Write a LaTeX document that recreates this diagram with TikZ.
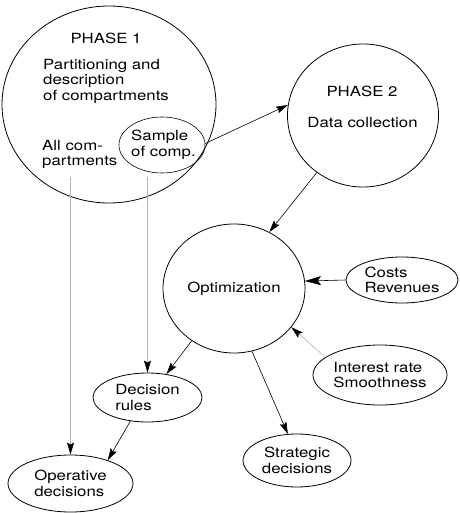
\documentclass[tikz,border=0pt]{standalone}
\usepackage{fontspec}
\setmainfont{TeX Gyre Heros}[FakeStretch=1.2]
\usetikzlibrary{arrows.meta,shapes.geometric}

\begin{document}
\begin{tikzpicture}[x=1pt, y=-1pt, >={Stealth[length=12pt,width=7pt,inset=2pt]},
        every node/.style={font=\fontsize{14}{15.5}\selectfont},
        bubble/.style={draw, ellipse, line width=0.8pt, inner sep=0pt, align=left},
        txt/.style={inner sep=0pt, align=left},
        flow/.style={->, line width=0.6pt},
        faint/.style={line width=0.6pt, gray!60, -{Stealth[length=12pt,width=7pt,inset=2pt,color=black]}}]
        \useasboundingbox (0,0) rectangle (459,513);

        % Phase 1
        \node[bubble, minimum width=214pt, minimum height=197pt] (phase1) at (109,104.5) {};
        \node[txt] (p1title) at (106,38) {PHASE 1};
        \node[txt, anchor=north west] (p1desc) at (43,59) {Partitioning and\\description\\of compartments};
        \node[txt, anchor=north west] (allcomp) at (42,140) {All com-\\partments};
        \node[bubble, line width=0.6pt, minimum width=86pt, minimum height=56pt] (sample) at (162,145) {};
        \node[txt] (sampletxt) at (163.5,145) {Sample\\of comp.};

        % Phase 2
        \node[bubble, minimum width=151pt, minimum height=143pt] (phase2) at (363,115.5) {};
        \node[txt] (p2title) at (362,91.5) {PHASE 2};
        \node[txt, anchor=base] (p2desc) at (362.5,128) {Data collection};

        % Optimization and its inputs
        \node[bubble, minimum width=142pt, minimum height=129pt] (opt) at (234,288.5) {Optimization};
        \node[bubble, minimum width=112pt, minimum height=46pt] (costs) at (402,280) {Costs\\Revenues};
        \node[bubble, minimum width=134pt, minimum height=60pt] (interest) at (380,375) {Interest rate\\Smoothness};

        % Decisions
        \node[bubble, align=center, minimum width=108pt, minimum height=53pt] (strategic) at (297,460.5) {Strategic\\decisions};
        \node[bubble, minimum width=109pt, minimum height=49pt] (rules) at (147.5,397.5) {Decision\\rules};
        \node[bubble, minimum width=125pt, minimum height=57pt] (oper) at (70.5,483.5) {Operative\\decisions};

        % Connectors
        \draw[flow] (sample.2) -- (phase2.172);
        \draw[flow] (phase2.231) -- (opt.58);
        \draw[flow, -{Stealth[length=16pt,width=9pt,inset=3pt]}] (costs.west) -- (opt.6);
        \draw[faint] (interest.162) -- (opt.326);
        \draw[flow] (opt.231) -- (rules.51);
        \draw[flow] (opt.286) -- (strategic.109);
        \draw[flow] (rules.234) -- (oper.32);
        \draw[faint] ([yshift=-4pt]sample.south -| rules.north) -- (rules.north);
        \draw[faint] ([yshift=-8pt]allcomp.south -| oper.north) -- (oper.north);
    \end{tikzpicture}
\end{document}
